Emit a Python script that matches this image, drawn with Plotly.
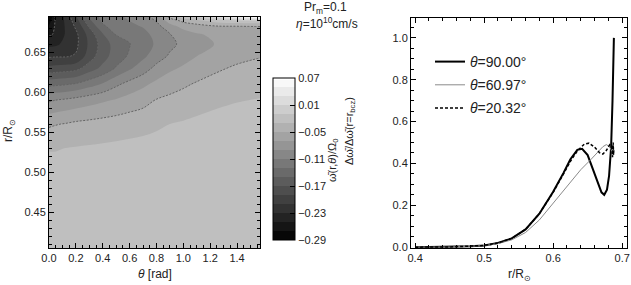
import plotly.graph_objects as go

W, H = 631, 285

# ---------------- data: left panel (omega_bar(r, theta)/Omega_0) ----------------
theta = [0.0, 0.05, 0.12, 0.2, 0.3, 0.4, 0.5, 0.6, 0.7, 0.8, 0.9, 1.0, 1.1, 1.25, 1.4, 1.5708]
radius = [0.405, 0.45, 0.50, 0.53, 0.56, 0.59, 0.61, 0.63, 0.645, 0.66, 0.672, 0.682, 0.689, 0.694]
omega = [
    [-0.014, -0.014, -0.014, -0.013, -0.013, -0.013, -0.013, -0.012, -0.012, -0.012, -0.012, -0.012, -0.011, -0.011, -0.011, -0.011],
    [-0.017, -0.017, -0.017, -0.016, -0.016, -0.016, -0.015, -0.015, -0.015, -0.014, -0.014, -0.014, -0.013, -0.013, -0.013, -0.012],
    [-0.024, -0.024, -0.023, -0.023, -0.022, -0.021, -0.020, -0.019, -0.018, -0.017, -0.016, -0.016, -0.015, -0.014, -0.014, -0.013],
    [-0.031, -0.031, -0.030, -0.029, -0.028, -0.027, -0.026, -0.025, -0.024, -0.023, -0.022, -0.021, -0.020, -0.018, -0.017, -0.016],
    [-0.053, -0.051, -0.049, -0.046, -0.044, -0.042, -0.040, -0.038, -0.036, -0.033, -0.030, -0.028, -0.026, -0.023, -0.021, -0.020],
    [-0.093, -0.090, -0.087, -0.083, -0.078, -0.073, -0.068, -0.062, -0.057, -0.049, -0.046, -0.042, -0.038, -0.034, -0.031, -0.029],
    [-0.136, -0.134, -0.132, -0.128, -0.118, -0.108, -0.094, -0.083, -0.074, -0.065, -0.057, -0.053, -0.048, -0.042, -0.039, -0.037],
    [-0.185, -0.183, -0.181, -0.177, -0.160, -0.145, -0.128, -0.113, -0.100, -0.084, -0.074, -0.067, -0.061, -0.053, -0.047, -0.044],
    [-0.213, -0.212, -0.212, -0.208, -0.180, -0.158, -0.140, -0.127, -0.114, -0.100, -0.087, -0.078, -0.070, -0.062, -0.056, -0.051],
    [-0.235, -0.233, -0.226, -0.215, -0.186, -0.161, -0.141, -0.131, -0.120, -0.107, -0.095, -0.085, -0.076, -0.069, -0.064, -0.060],
    [-0.253, -0.247, -0.229, -0.215, -0.182, -0.152, -0.129, -0.122, -0.116, -0.104, -0.091, -0.080, -0.072, -0.066, -0.063, -0.060],
    [-0.267, -0.246, -0.229, -0.207, -0.168, -0.134, -0.120, -0.114, -0.109, -0.097, -0.078, -0.064, -0.059, -0.053, -0.052, -0.050],
    [-0.280, -0.246, -0.228, -0.200, -0.155, -0.126, -0.116, -0.110, -0.103, -0.089, -0.062, -0.046, -0.038, -0.022, -0.018, -0.016],
    [-0.290, -0.245, -0.227, -0.193, -0.146, -0.122, -0.114, -0.107, -0.099, -0.080, -0.045, -0.020, -0.008, 0.020, 0.045, 0.070],
]
cbar_ticks = [0.07, 0.01, -0.05, -0.11, -0.17, -0.23, -0.29]
cbar_labels = ["0.07", "0.01", "\u22120.05", "\u22120.11", "\u22120.17", "\u22120.23", "\u22120.29"]

# ---------------- data: right panel ----------------
r90 = [0.40, 0.45, 0.48, 0.50, 0.52, 0.54, 0.56, 0.58, 0.60, 0.615, 0.625, 0.635, 0.642, 0.650,
       0.658, 0.665, 0.670, 0.674, 0.678, 0.681, 0.684, 0.686, 0.6875, 0.688]
v90 = [0.000, 0.001, 0.004, 0.008, 0.020, 0.042, 0.085, 0.160, 0.265, 0.355, 0.420, 0.465, 0.470, 0.440,
       0.370, 0.300, 0.262, 0.250, 0.275, 0.340, 0.480, 0.700, 0.870, 1.000]
r61 = [0.40, 0.45, 0.50, 0.52, 0.54, 0.56, 0.58, 0.60, 0.62, 0.64, 0.655, 0.665, 0.672, 0.677,
       0.681, 0.684, 0.686, 0.687]
v61 = [0.000, 0.001, 0.007, 0.017, 0.035, 0.070, 0.130, 0.210, 0.295, 0.370, 0.420, 0.455, 0.480, 0.490,
       0.482, 0.465, 0.450, 0.460]
r20 = [0.40, 0.45, 0.50, 0.52, 0.54, 0.56, 0.58, 0.60, 0.615, 0.625, 0.635, 0.645, 0.652, 0.660,
       0.667, 0.672, 0.677, 0.682, 0.685, 0.686, 0.687, 0.6875, 0.688]
v20 = [0.000, 0.001, 0.008, 0.020, 0.042, 0.085, 0.160, 0.262, 0.350, 0.410, 0.460, 0.492, 0.497, 0.478,
       0.452, 0.445, 0.462, 0.490, 0.480, 0.430, 0.500, 0.440, 0.470]

FONT = "Liberation Sans, Arial, sans-serif"
TXT = "#222222"

def px(x):
    return x / W

def py(y):
    return 1 - y / H

fig = go.Figure()

# filled contour bands
fig.add_trace(go.Contour(
    x=theta, y=radius, z=omega,
    colorscale=[[0, "#000000"], [1, "#ffffff"]],
    zmin=-0.29, zmax=0.07,
    autocontour=False,
    contours=dict(start=-0.29, end=0.07, size=0.02, coloring="fill", showlines=False),
    line=dict(width=0, smoothing=1.0),
    colorbar=dict(
        x=px(273), xanchor="left", y=py(78), yanchor="top",
        len=162, lenmode="pixels", thickness=22, thicknessmode="pixels",
        xpad=0, ypad=0, outlinewidth=1, outlinecolor="black",
        tickmode="array", tickvals=cbar_ticks, ticktext=cbar_labels,
        ticks="inside", ticklen=5, tickcolor="black",
        tickfont=dict(family=FONT, size=11, color=TXT),
    ),
    hoverinfo="skip", showlegend=False,
    xaxis="x", yaxis="y",
))
# dashed contour lines
fig.add_trace(go.Contour(
    x=theta, y=radius, z=omega,
    autocontour=False,
    contours=dict(start=-0.25, end=-0.05, size=0.04, coloring="none", showlines=True),
    line=dict(color="#646464", width=1, dash="2px,1.5px", smoothing=1.0),
    showscale=False, hoverinfo="skip", showlegend=False,
    xaxis="x", yaxis="y",
))

# right panel curves
fig.add_trace(go.Scatter(x=r90, y=v90, mode="lines", name="<i>θ</i>=90.00°",
                         line=dict(color="black", width=2), xaxis="x2", yaxis="y2",
                         legendgroup="a"))
fig.add_trace(go.Scatter(x=r61, y=v61, mode="lines", name="<i>θ</i>=60.97°",
                         line=dict(color="#8a8a8a", width=1), xaxis="x2", yaxis="y2",
                         legendgroup="b"))
fig.add_trace(go.Scatter(x=r20, y=v20, mode="lines", name="<i>θ</i>=20.32°",
                         line=dict(color="black", width=1.5, dash="3px,2px"), xaxis="x2", yaxis="y2",
                         legendgroup="c"))

axis_common = dict(
    showline=True, linecolor="black", linewidth=1, mirror="ticks",
    ticks="inside", ticklen=5, tickcolor="black",
    showgrid=False, zeroline=False, automargin=False,
    tickfont=dict(family=FONT, size=11, color=TXT),
)

fig.update_layout(
    template="none",
    width=W, height=H,
    margin=dict(l=0, r=0, t=0, b=0, pad=0, autoexpand=False),
    paper_bgcolor="white", plot_bgcolor="white",
    font=dict(family=FONT, size=11, color=TXT),
    showlegend=True,
    legend=dict(x=px(430), y=py(46), xanchor="left", yanchor="top",
                bgcolor="rgba(0,0,0,0)", borderwidth=0,
                font=dict(family=FONT, size=14, color=TXT),
                traceorder="grouped", tracegroupgap=2),
    xaxis=dict(domain=[px(49), px(260)], range=[0, 1.5708], anchor="y",
               tickmode="linear", tick0=0, dtick=0.2, tickformat=".1f",
               minor=dict(ticks="inside", ticklen=3, dtick=0.05, tickcolor="black"),
               **axis_common),
    yaxis=dict(domain=[py(248), py(17)], range=[0.405, 0.694], anchor="x",
               tickmode="linear", tick0=0.45, dtick=0.05, tickformat=".2f",
               minor=dict(ticks="inside", ticklen=3, dtick=0.01, tickcolor="black"),
               **axis_common),
    xaxis2=dict(domain=[px(411), px(627)], range=[0.394, 0.707], anchor="y2",
                tickmode="linear", tick0=0.4, dtick=0.1, tickformat=".1f",
                minor=dict(ticks="inside", ticklen=3, dtick=0.02, tickcolor="black"),
                **axis_common),
    yaxis2=dict(domain=[py(248), py(18)], range=[-0.004, 1.095], anchor="x2",
                tickmode="linear", tick0=0, dtick=0.2, tickformat=".1f",
                minor=dict(ticks="inside", ticklen=3, dtick=0.05, tickcolor="black"),
                **axis_common),
)

ann = []
def add_text(text, x, y, size=11, angle=0, xanchor="center"):
    ann.append(dict(text=text, x=px(x), y=py(y), xref="paper", yref="paper",
                    showarrow=False, textangle=angle, xanchor=xanchor, yanchor="middle",
                    font=dict(family=FONT, size=size, color=TXT)))

add_text("<i>θ</i> [rad]", 155, 274, size=12)
add_text("r/R<sub>⊙</sub>", 9, 131, size=12, angle=-90)
add_text("r/R<sub>⊙</sub>", 519, 275, size=12)
add_text("Δω̄/Δω̄(r=r<sub>bcz</sub>)", 350, 131, size=11, angle=-90)
add_text("ω̄(r,<i>θ</i>)/Ω<sub>0</sub>", 333, 160, size=11, angle=-90)
add_text("Pr<sub>m</sub>=0.1", 325, 8, size=12)
add_text("<i>η</i>=10<sup>10</sup>cm/s", 327, 23, size=12)
fig.update_layout(annotations=ann)

fig.write_html("out.html",
               config={"displayModeBar": False, "staticPlot": True},
               post_script="document.body.style.margin='0px';document.body.style.overflow='hidden';")
